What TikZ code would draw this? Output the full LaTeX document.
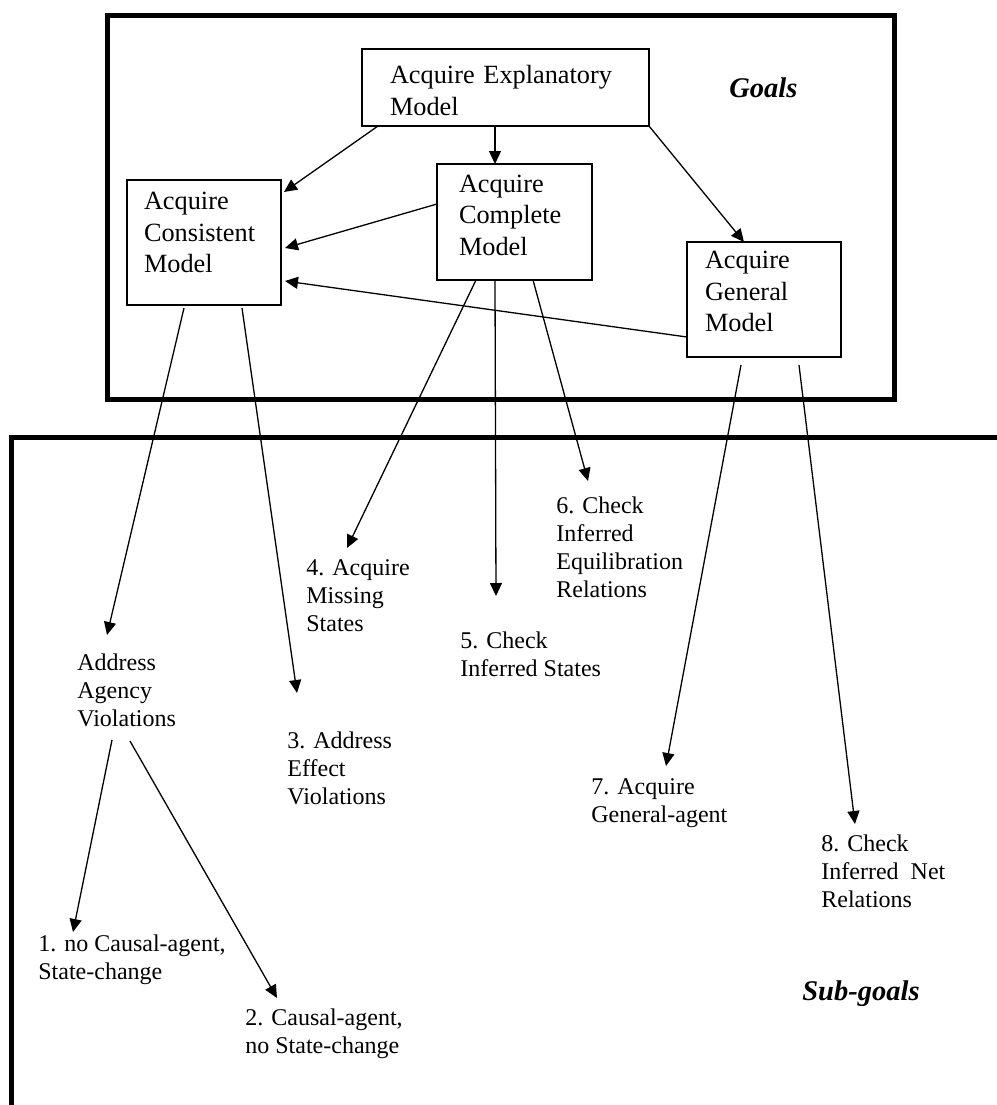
\documentclass[tikz,border=0pt]{standalone}
\usepackage{fontspec}
\setmainfont{Liberation Serif}
\usetikzlibrary{arrows.meta,calc}
\begin{document}
\begin{tikzpicture}[x=0.5pt,y=-0.5pt,
  goalbox/.style={draw, line width=1.25pt, rectangle, anchor=north west, align=left, outer sep=0pt, inner ysep=0pt, font=\fontsize{13.15}{15.75}\selectfont},
  subtext/.style={anchor=north west, align=left, inner sep=0pt, font=\fontsize{12}{14}\selectfont},
  conn/.style={-{Triangle[length=6.5pt,width=6pt]}, line width=0.65pt},
  frame/.style={line width=2.5pt},
  title/.style={font=\fontsize{14.25}{17}\selectfont\bfseries\itshape, anchor=base west, inner sep=0pt}]
\useasboundingbox (0,0) rectangle (997,1105);
% frames
\draw[frame] (107,15) rectangle (894,399);
\draw[frame] (997,437) -- (11,437) -- (11,1105);
% goal boxes
\node[goalbox, text width=115.5pt, inner xsep=14pt, minimum height=38.5pt] (expl) at (362,49) {\rule{0pt}{12pt}Acquire Explanatory\\Model};
\node[goalbox, text width=55.5pt, inner xsep=11pt, minimum height=58pt] (comp) at (437,164) {Acquire\\Complete\\Model\rule[-7pt]{0pt}{0pt}};
\node[goalbox, text width=60pt, inner xsep=8.5pt, minimum height=62.5pt] (cons) at (127,180) {Acquire\\Consistent\\Model\rule[-10pt]{0pt}{0pt}};
\node[goalbox, text width=59pt, inner xsep=9pt, minimum height=57.5pt] (gen) at (687,242) {Acquire\\General\\Model\rule[-8pt]{0pt}{0pt}};
% titles
\node[title] (goals) at (729,97) {Goals};
\node[title] (subgoals) at (802,1000) {Sub-goals};
% sub-goals
\node[subtext] (agency) at (77,653) {Address\\Agency\\Violations};
\node[subtext] (s3) at (287,731) {3. Address\\Effect\\Violations};
\node[subtext] (s4) at (306,559) {4. Acquire\\Missing\\States};
\node[subtext] (s5) at (460,631) {5. Check\\Inferred States};
\node[subtext] (s6) at (556,496) {6. Check\\Inferred\\Equilibration\\Relations};
\node[subtext] (s7) at (591,778) {7. Acquire\\General-agent};
\node[subtext] (s8) at (821,834) {8. Check\\Inferred\ \ Net\\Relations};
\node[subtext] (s1) at (38,934) {1. no Causal-agent,\\State-change};
\node[subtext] (s2) at (245,1008) {2. Causal-agent,\\no State-change};
% connectors
\draw[conn] ($(expl.south west)+(16,0)$) -- ($(cons.north east)+(3,12)$);
\draw[conn] ($(expl.south west)+(133,0)$) -- ($(comp.north west)+(58,0)$);
\draw[conn] (expl.south east) -- ($(gen.north west)+(57,0)$);
\draw[conn] ($(comp.north west)+(0,40)$) -- ($(cons.north east)+(4,68)$);
\draw[conn] ($(gen.south west)+(0,-20)$) -- ($(cons.south east)+(4,-24)$);
\draw[conn] ($(cons.south west)+(57,3)$) -- ($(agency.north west)+(30,-18)$);
\draw[conn] ($(cons.south west)+(115,3)$) -- ($(s3.north west)+(10,-38)$);
\draw[conn] ($(comp.south west)+(39,0)$) -- ($(s4.north west)+(41,-11)$);
\draw[conn] ($(comp.south west)+(58,0)$) -- ($(s5.north west)+(36,-35)$);
\draw[conn] ($(comp.south west)+(96,0)$) -- ($(s6.north west)+(32,-15)$);
\draw[conn] ($(gen.south west)+(54,8)$) -- ($(s7.north west)+(75,-12)$);
\draw[conn] ($(gen.south west)+(112,8)$) -- ($(s8.north west)+(34,-10)$);
\draw[conn] ($(agency.north west)+(35,87)$) -- ($(s1.north west)+(35,-2)$);
\draw[conn] ($(agency.north west)+(53,88)$) -- ($(s2.north west)+(32,-10)$);
\end{tikzpicture}
\end{document}
